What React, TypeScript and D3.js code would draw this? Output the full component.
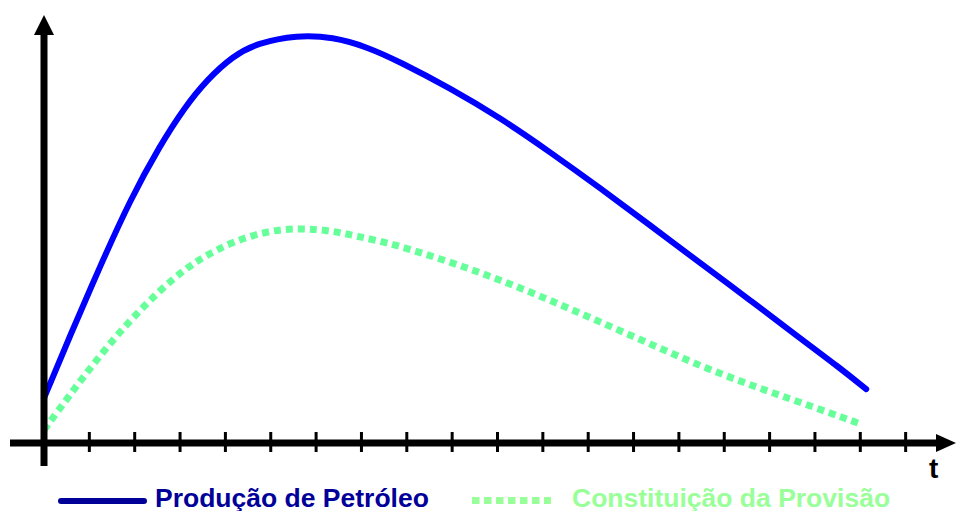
import React, { useEffect } from "react";
import * as d3 from "d3";

// Time axis (tick units) and production curve (relative units, peak = 100)
const productionT = [0, 0.57, 1.24, 1.9, 2.56, 3.11, 3.59, 4.17, 4.7, 5.58, 6.37, 7.12, 7.85, 8.95, 10.06, 11.16, 12.26, 13.36, 14.47, 15.57, 16.67, 17.55, 18.13];
const productionV = [11.0, 26.2, 43.4, 59.6, 73.0, 82.4, 89.0, 94.9, 98.0, 100, 99.5, 97.1, 93.4, 87.0, 79.7, 71.3, 62.5, 53.4, 44.1, 35.0, 25.7, 18.4, 13.2];

// Provision build-up curve
const provisionT = [0, 0.57, 1.24, 1.9, 2.56, 3.11, 3.51, 4.15, 4.92, 5.65, 6.37, 6.97, 7.7, 8.95, 10.06, 11.16, 12.26, 13.36, 14.47, 15.57, 16.67, 17.95];
const provisionV = [3.2, 11.8, 21.6, 30.1, 37.5, 42.6, 45.6, 49.3, 52.0, 52.7, 52.0, 50.5, 48.8, 44.4, 40.0, 35.0, 29.7, 24.3, 18.9, 14.2, 10.0, 4.9];

const tickValues = d3.range(1, 20);

const legendLabels = ["Produção de Petróleo", "Constituição da Provisão"];

const W = 956;
const H = 511;

export default function App() {
  useEffect(() => {
    document.body.style.margin = "0";
  }, []);

  const x = d3.scaleLinear().domain([0, 20]).range([44, 44 + 20 * 45.35]);
  const y = d3.scaleLinear().domain([0, 100]).range([443, 35]);

  const line = d3
    .line<[number, number]>()
    .x((d) => x(d[0]))
    .y((d) => y(d[1]))
    .curve(d3.curveBasis);

  const prodPts = productionT.map((t, i) => [t, productionV[i]] as [number, number]);
  const provPts = provisionT.map((t, i) => [t, provisionV[i]] as [number, number]);

  const x0 = x(0);
  const y0 = y(0);
  const font = "Liberation Sans, Arial, sans-serif";

  return (
    <svg width={W} height={H} style={{ display: "block", background: "#fff" }}>
      {/* curves */}
      <path d={line(provPts) || ""} fill="none" stroke="#66FF99" strokeWidth={7} strokeDasharray="7 5" />
      <path d={line(prodPts) || ""} fill="none" stroke="#0000FF" strokeWidth={6} strokeLinecap="round" />

      {/* axes */}
      <line x1={10} x2={940} y1={y0} y2={y0} stroke="#000" strokeWidth={7} />
      <polygon points={`956,${y0} 936,${y0 - 9} 936,${y0 + 9}`} fill="#000" />
      <line x1={x0} x2={x0} y1={466} y2={32} stroke="#000" strokeWidth={7} />
      <polygon points={`${x0},15 ${x0 - 10},35 ${x0 + 10},35`} fill="#000" />
      {tickValues.map((t) => (
        <line key={t} x1={x(t)} x2={x(t)} y1={y0 - 11} y2={y0 + 9} stroke="#000" strokeWidth={3} />
      ))}
      <text x={929} y={478} fontFamily={font} fontWeight="bold" fontSize={28} fill="#000">
        t
      </text>

      {/* legend */}
      <line x1={61} x2={144} y1={501} y2={501} stroke="#000099" strokeWidth={6} strokeLinecap="round" />
      <text x={155} y={507} fontFamily={font} fontWeight="bold" fontSize={26.5} fill="#000099">
        {legendLabels[0]}
      </text>
      <line x1={472} x2={551} y1={500.5} y2={500.5} stroke="#99FF99" strokeWidth={7} strokeDasharray="7.5 4.5" />
      <text x={572} y={507} fontFamily={font} fontWeight="bold" fontSize={26.5} fill="#99FF99">
        {legendLabels[1]}
      </text>
    </svg>
  );
}
